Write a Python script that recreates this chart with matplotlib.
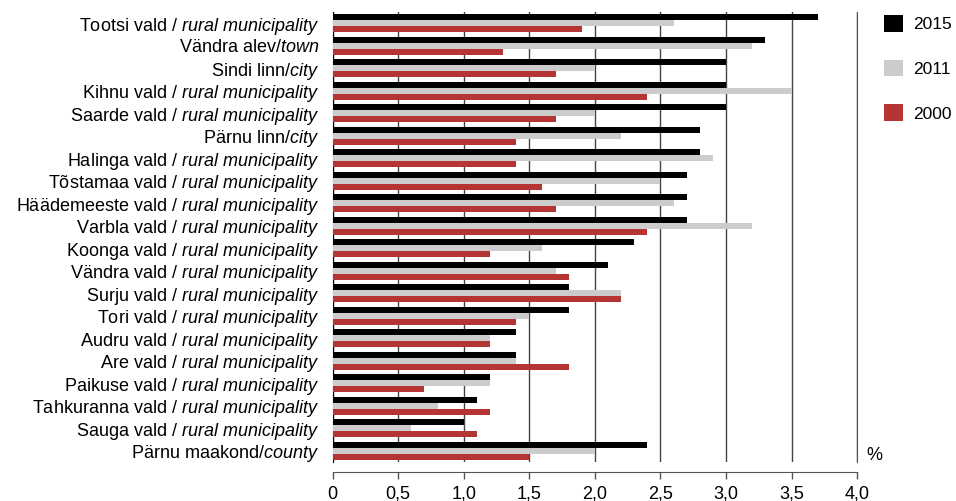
import numpy as np
import matplotlib.pyplot as plt
from matplotlib.ticker import FuncFormatter

plt.rcParams['font.family'] = ['Liberation Sans', 'DejaVu Sans']
plt.rcParams['mathtext.fontset'] = 'custom'
plt.rcParams['mathtext.rm'] = 'Liberation Sans'
plt.rcParams['mathtext.it'] = 'Liberation Sans:italic'

# labels: (plain part, italic part)
names = [
    ('Tootsi vald / ', 'rural municipality'),
    ('Vändra alev/', 'town'),
    ('Sindi linn/', 'city'),
    ('Kihnu vald / ', 'rural municipality'),
    ('Saarde vald / ', 'rural municipality'),
    ('Pärnu linn/', 'city'),
    ('Halinga vald / ', 'rural municipality'),
    ('Tõstamaa vald / ', 'rural municipality'),
    ('Häädemeeste vald / ', 'rural municipality'),
    ('Varbla vald / ', 'rural municipality'),
    ('Koonga vald / ', 'rural municipality'),
    ('Vändra vald / ', 'rural municipality'),
    ('Surju vald / ', 'rural municipality'),
    ('Tori vald / ', 'rural municipality'),
    ('Audru vald / ', 'rural municipality'),
    ('Are vald / ', 'rural municipality'),
    ('Paikuse vald / ', 'rural municipality'),
    ('Tahkuranna vald / ', 'rural municipality'),
    ('Sauga vald / ', 'rural municipality'),
    ('Pärnu maakond/', 'county'),
]
v2015 = [3.7, 3.3, 3.0, 3.0, 3.0, 2.8, 2.8, 2.7, 2.7, 2.7, 2.3, 2.1, 1.8, 1.8, 1.4, 1.4, 1.2, 1.1, 1.0, 2.4]
v2011 = [2.6, 3.2, 2.0, 3.5, 2.0, 2.2, 2.9, 2.5, 2.6, 3.2, 1.6, 1.7, 2.2, 1.5, 1.2, 1.4, 1.2, 0.8, 0.6, 2.0]
v2000 = [1.9, 1.3, 1.7, 2.4, 1.7, 1.4, 1.4, 1.6, 1.7, 2.4, 1.2, 1.8, 2.2, 1.4, 1.2, 1.8, 0.7, 1.2, 1.1, 1.5]

series = [('2015', v2015, '#000000'), ('2011', v2011, '#cccccc'), ('2000', v2000, '#b53434')]

fig = plt.figure(figsize=(9.56, 5.01), dpi=100)
ax = fig.add_axes([0.348, 0.078, 0.8965 - 0.348, 0.976 - 0.078])

y = np.arange(len(names))
h = 0.265
for k, (lab, vals, col) in enumerate(series):
    ax.barh(y + (k - 1) * h, vals, height=h, color=col, label=lab, zorder=3)

ax.set_xlim(0, 4.0)
ax.set_ylim(len(names) - 0.5, -0.5)
ax.set_xticks(np.arange(0, 4.01, 0.5))
ax.xaxis.set_major_formatter(FuncFormatter(lambda v, p: '0' if v == 0 else f'{v:.1f}'.replace('.', ',')))
ax.grid(axis='x', color='#444444', lw=1, zorder=0)

labels = [a + r'$\mathit{' + b.replace(' ', r'\ ') + '}$' for a, b in names]
ax.set_yticks(y)
ax.set_yticklabels(labels, fontsize=13)
ax.tick_params(axis='y', length=0, pad=10)
ax.tick_params(axis='x', length=5, width=1, color='#555555', labelsize=13, pad=5)

ax.spines['top'].set_visible(False)
ax.spines['right'].set_color('#555555')
ax.spines['left'].set_color('#000000')
ax.spines['bottom'].set_position(('outward', 7))
ax.spines['bottom'].set_color('#555555')

fig.text(866 / 956, 1 - 455 / 501, '%', fontsize=13, va='center', ha='left')

fig.legend(loc='upper left', bbox_to_anchor=(884 / 956, 1 - 15 / 501), frameon=False,
           fontsize=12.5, handlelength=1.1, handleheight=1.1, handletextpad=0.55,
           labelspacing=1.58, borderpad=0, borderaxespad=0)

fig.savefig('out.png', dpi=100)
